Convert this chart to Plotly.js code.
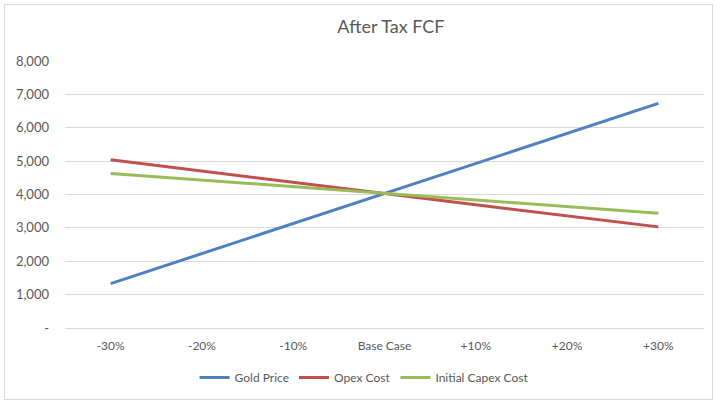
<!DOCTYPE html>
<html>
<head>
<meta charset="utf-8">
<script src="https://cdn.plot.ly/plotly-3.0.1.min.js"></script>
<style>
html,body{margin:0;padding:0;background:#fff;}
#wrap{position:relative;width:724px;height:404px;}
#chart{width:724px;height:404px;}
#frame{position:absolute;left:4px;top:4px;width:707px;height:394px;border:1px solid #d9d9d9;pointer-events:none;}
</style>
</head>
<body>
<div id="wrap"><div id="chart"></div><div id="frame"></div></div>
<script>
const categories = ["-30%", "-20%", "-10%", "Base Case", "+10%", "+20%", "+30%"];
const goldPrice = [1330, 2230, 3130, 4030, 4930, 5830, 6730];
const opexCost = [5040, 4710, 4370, 4030, 3690, 3360, 3030];
const initialCapexCost = [4630, 4430, 4230, 4030, 3830, 3640, 3440];
const yTickVals = [0, 1000, 2000, 3000, 4000, 5000, 6000, 7000, 8000];
const yTickText = ["-", "1,000", "2,000", "3,000", "4,000", "5,000", "6,000", "7,000", "8,000"];

const font = "Lato, 'Open Sans', sans-serif";
function tr(name, y, color) {
  return {x: categories, y: y, name: name, type: "scatter", mode: "lines",
          line: {color: color, width: 3}, hoverinfo: "skip"};
}
const data = [
  tr("Gold Price", goldPrice, "#4f81bd"),
  tr("Opex Cost", opexCost, "#c0504d"),
  tr("Initial Capex Cost", initialCapexCost, "#9bbb59")
];
const layout = {
  width: 724, height: 404,
  margin: {l: 65, r: 20, t: 61, b: 76},
  paper_bgcolor: "#fff", plot_bgcolor: "#fff",
  font: {family: font, size: 12, color: "#595959"},
  title: {text: "After Tax FCF", font: {family: font, size: 18, color: "#595959"},
          x: 0.54, xanchor: "center", y: 0.935, yanchor: "middle"},
  xaxis: {type: "category", range: [-0.5, 6.5], showgrid: false, zeroline: false,
          showline: false, ticks: "", ticklabelstandoff: 9,
          tickfont: {size: 12, color: "#595959"}, fixedrange: true},
  yaxis: {range: [0, 8000], tickvals: yTickVals, ticktext: yTickText, showgrid: true,
          gridcolor: "#d9d9d9", gridwidth: 1, zeroline: true, zerolinecolor: "#d9d9d9",
          zerolinewidth: 1, showline: false, ticks: "", ticklabelstandoff: 15,
          tickfont: {size: 13, color: "#595959"}, fixedrange: true},
  showlegend: true,
  legend: {orientation: "h", x: 0.468, xanchor: "center", y: -0.185, yanchor: "middle",
           font: {size: 12, color: "#595959"}, itemwidth: 30, traceorder: "normal"},
  hovermode: false
};
Plotly.newPlot("chart", data, layout, {displayModeBar: false, staticPlot: true});
</script>
</body>
</html>
